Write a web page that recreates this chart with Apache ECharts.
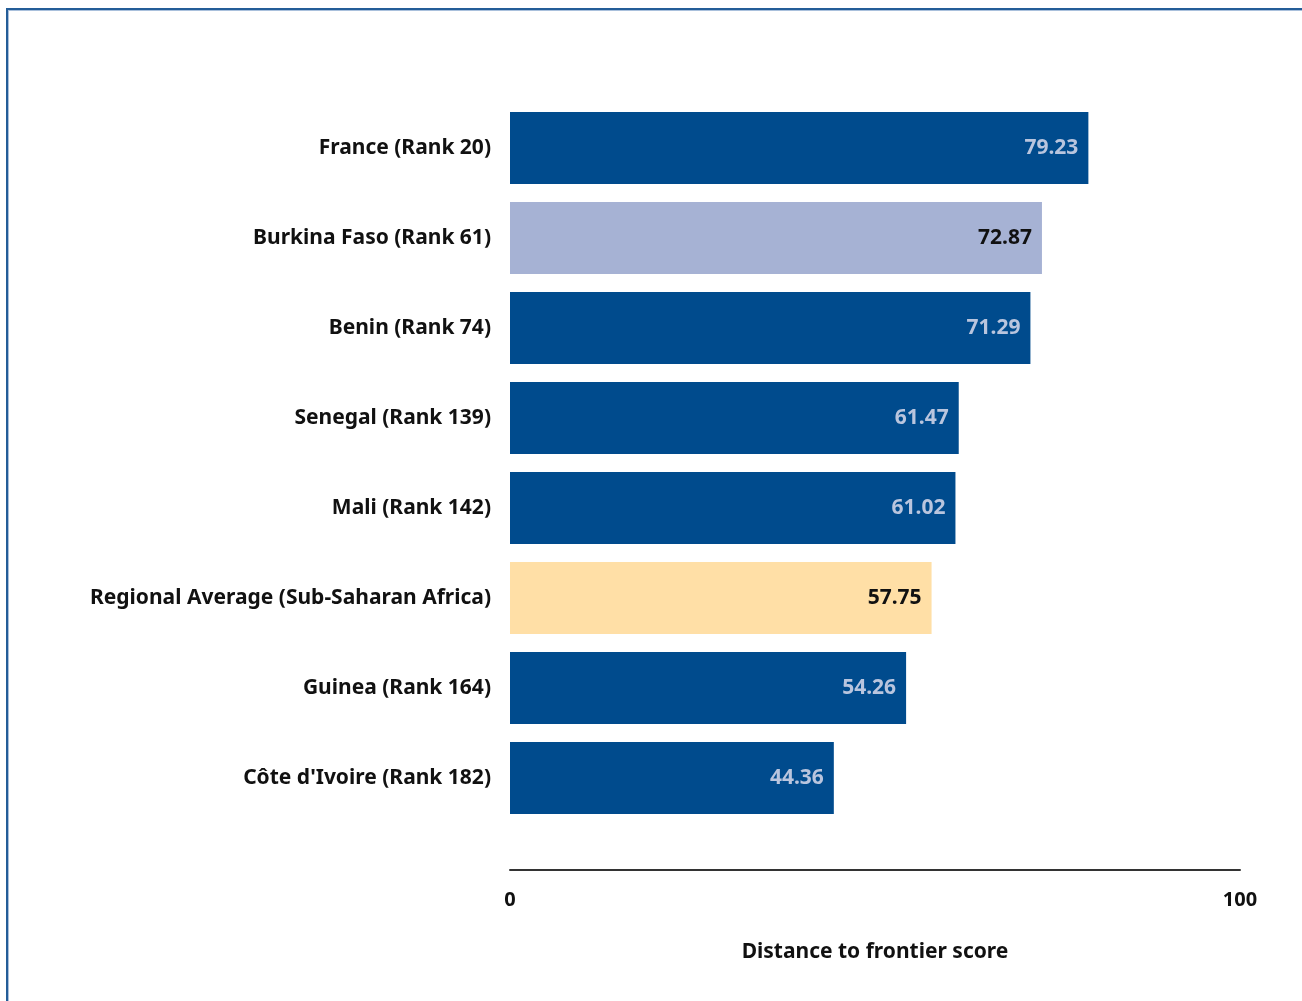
<!DOCTYPE html>
<html>
<head>
<meta charset="utf-8">
<script src="https://cdn.jsdelivr.net/npm/echarts@6/dist/echarts.min.js"></script>
<style>
html,body{margin:0;padding:0;background:#fff;overflow:hidden;}
#frame{position:absolute;left:6px;top:8px;width:1400px;height:1100px;border:2px solid #245d98;box-shadow:inset 1px 1px 0 #a9c0dc;}
#chart{position:absolute;left:0;top:0;width:1302px;height:1001px;}
</style>
</head>
<body>
<div id="frame"></div>
<div id="chart"></div>
<script>
const categories = ["France (Rank 20)","Burkina Faso (Rank 61)","Benin (Rank 74)","Senegal (Rank 139)","Mali (Rank 142)","Regional Average (Sub-Saharan Africa)","Guinea (Rank 164)","Côte d'Ivoire (Rank 182)"];
const scores = [79.23,72.87,71.29,61.47,61.02,57.75,54.26,44.36];
const barKinds = ["other","focus","other","other","other","region","other","other"];
const xTicks = [0,100];
const axisName = "Distance to frontier score";

const colors = {other:"#004b8d", focus:"#a6b2d4", region:"#ffdfa6"};
const labelColors = {other:"#b9c5de", focus:"#111", region:"#111"};
const FONT = "'Noto Sans', sans-serif";
const FS = 21;

const chart = echarts.init(document.getElementById('chart'));
chart.setOption({
  animation:false,
  grid:{left:510, top:103, width:730, height:720, containLabel:false},
  xAxis:{
    type:'value', min:0, max:100, interval:100, offset:47,
    axisLine:{show:true, lineStyle:{color:'#333', width:2}},
    axisTick:{show:false}, splitLine:{show:false},
    axisLabel:{margin:20, fontFamily:FONT, fontWeight:'bold', fontSize:20, color:'#111',
      formatter:v=> xTicks.includes(v)? String(v):''},
    name:axisName, nameLocation:'middle', nameGap:72,
    nameTextStyle:{fontFamily:FONT, fontWeight:'bold', fontSize:FS, color:'#111'}
  },
  yAxis:{
    type:'category', data:categories, inverse:true,
    axisLine:{show:false}, axisTick:{show:false},
    axisLabel:{margin:19, fontFamily:FONT, fontWeight:'bold', fontSize:FS, color:'#111'}
  },
  series:[{
    type:'bar', barCategoryGap:'20%',
    data:scores.map((v,i)=>({value:v,
      itemStyle:{color:colors[barKinds[i]]},
      label:{color:labelColors[barKinds[i]]}})),
    label:{show:true, position:'insideRight', distance:10, fontFamily:FONT, fontWeight:'bold', fontSize:FS,
      formatter:p=>p.value.toFixed(2)}
  }]
});
</script>
</body>
</html>
